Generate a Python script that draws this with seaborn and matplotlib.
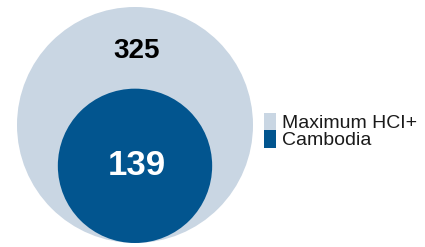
import matplotlib
matplotlib.use("Agg")
import matplotlib.pyplot as plt
from matplotlib.patches import Circle, Rectangle
import numpy as np
import seaborn as sns

# datos
etiquetas = ["Maximum HCI+", "Cambodia"]
valores = [325, 139]
colores = ["#c9d6e3", "#02558f"]
colores_texto = ["#000000", "#ffffff"]

sns.set_theme(style="white")
plt.rcParams["font.family"] = ["Liberation Sans", "DejaVu Sans"]

fig = plt.figure(figsize=(4.25, 2.47), dpi=100)
ax = fig.add_axes([0, 0, 1, 1])
ax.set_xlim(0, 425)
ax.set_ylim(247, 0)
ax.set_aspect("equal")
ax.axis("off")

# circulos proporcionales al area, apoyados en la misma base
r_max = 118
cx, base = 135, 243
radios = [r_max * np.sqrt(v / max(valores)) for v in valores]
for v, r, c in zip(valores, radios, colores):
    ax.add_patch(Circle((cx, base - r), r, color=c, lw=0))

# etiquetas de valores
ax.text(cx + 2, base - 2 * radios[0] + 44, str(valores[0]), ha="center", va="center",
        fontsize=20, fontweight="bold", color=colores_texto[0])
ax.text(cx + 2, base - radios[1], str(valores[1]), ha="center", va="center",
        fontsize=25, fontweight="bold", color=colores_texto[1])

# leyenda a mano: cuadros pegados uno debajo del otro
ley_x, ley_y, alto = 264, 113, 17.5
for i, (et, c) in enumerate(zip(etiquetas, colores)):
    y0 = ley_y + i * alto
    ax.add_patch(Rectangle((ley_x, y0), 12, alto, color=c, lw=0))
    ax.text(ley_x + 18, y0 + alto - 3, et, ha="left", va="baseline",
            fontsize=14, color="#1a1a1a")

fig.savefig("out.png", dpi=100)
